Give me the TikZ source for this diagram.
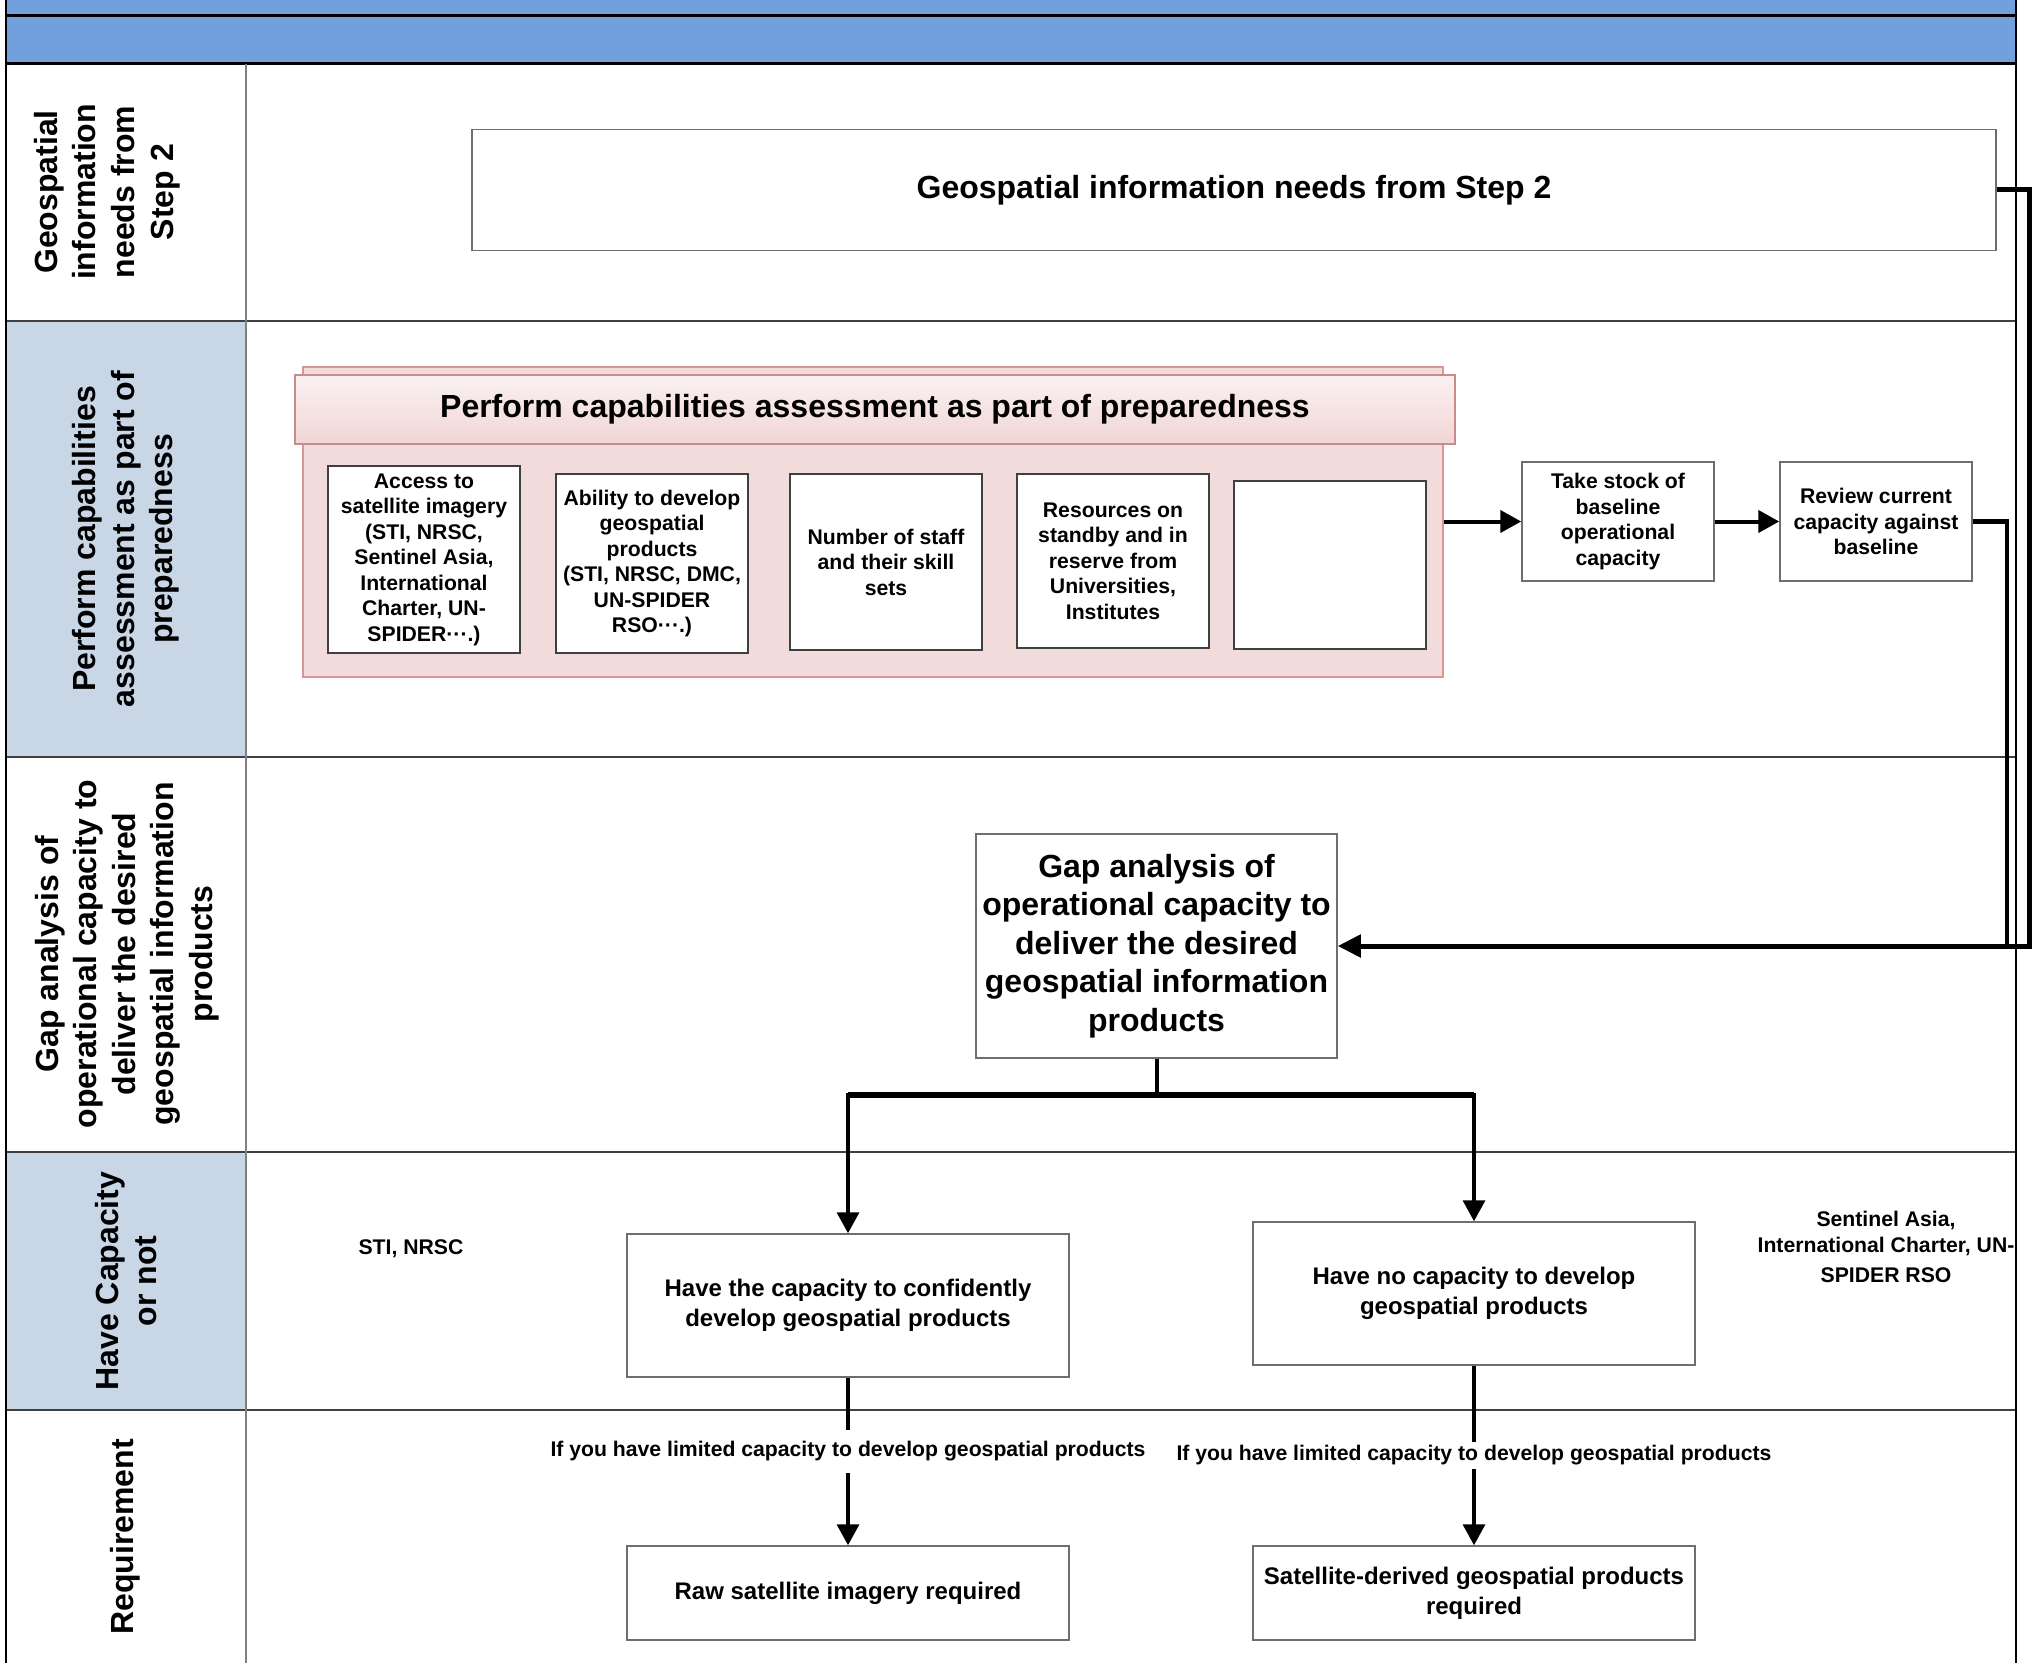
\documentclass[tikz,border=0pt]{standalone}
\usepackage{fontspec}
\setmainfont{Liberation Sans}
\usetikzlibrary{arrows.meta}
\definecolor{hdrblue}{RGB}{113,160,220}
\definecolor{lanefill}{RGB}{201,214,230}
\definecolor{pinkfill}{RGB}{242,220,219}
\definecolor{pinkdraw}{RGB}{217,150,148}
\definecolor{bannerdraw}{RGB}{200,140,138}
\definecolor{bannertop}{RGB}{251,241,241}
\definecolor{bannerbot}{RGB}{240,214,213}
\definecolor{rulegray}{RGB}{64,64,64}
\definecolor{colgray}{RGB}{128,128,128}
\definecolor{boxgray}{RGB}{110,110,110}
\newcommand{\bigfont}{\bfseries\fontsize{16}{19.3}\selectfont}
\newcommand{\midfont}{\bfseries\fontsize{12}{14.8}\selectfont}
\newcommand{\smallfont}{\bfseries\fontsize{10.6}{12.75}\selectfont}
\tikzset{
  lanetxt/.style={rotate=90, align=center, font=\bigfont, inner sep=0pt},
  flowbox/.style={draw=boxgray, line width=0.75pt, fill=white, align=center, inner sep=0pt},
  smallbox/.style={draw=rulegray, line width=0.9pt, fill=white, align=center, inner sep=0pt, font=\smallfont, minimum width=96pt},
  arrowline/.style={line width=1.75pt, -{Triangle[length=10.5pt,width=11pt]}},
  loopline/.style={line width=2.5pt},
  lanerule/.style={draw=rulegray, line width=1pt},
  lbl/.style={font=\smallfont, align=center, inner sep=0pt},
}
\begin{document}
\begin{tikzpicture}[x=0.5pt,y=-0.5pt]
\useasboundingbox (0,0) rectangle (2032,1663);
% header bands
\fill[hdrblue] (6,0) rectangle (2016,64);
\draw[line width=1.5pt] (6,16) -- (2016,16);
\draw[line width=1.5pt] (6,64) -- (2016,64);
% lane header fills
\fill[lanefill] (6,321) rectangle (246,757);
\fill[lanefill] (6,1152) rectangle (246,1410);
% lane rules
\draw[lanerule] (6,321) -- (2016,321);
\draw[lanerule] (6,757) -- (2016,757);
\draw[lanerule] (6,1152) -- (2016,1152);
\draw[lanerule] (6,1410) -- (2016,1410);
\draw[draw=colgray, line width=1pt] (246,64) -- (246,1663);
% lane titles
\node[lanetxt] (l1) at (107,192) {Geospatial\\information\\needs from\\Step 2};
\node[lanetxt] (l2) at (126,539) {Perform capabilities\\assessment as part of\\preparedness};
\node[lanetxt] (l3) at (127,954) {Gap analysis of\\operational capacity to\\deliver the desired\\geospatial information\\products};
\node[lanetxt] (l4) at (126,1281) {Have Capacity\\or not};
\node[lanetxt] (l5) at (125,1537) {Requirement};
% lane 1
\node[flowbox, font=\bigfont, minimum width=762pt, minimum height=60.5pt] (geo) at (1234,190) {Geospatial information needs from Step 2};
% lane 2
\node[draw=pinkdraw, fill=pinkfill, line width=0.9pt, minimum width=570pt, minimum height=155pt, inner sep=0pt] (pink) at (873,522) {};
\node[draw=bannerdraw, top color=bannertop, bottom color=bannerbot, line width=0.9pt, minimum width=580pt, minimum height=34.5pt, inner sep=0pt, font=\bigfont] (banner) at (875,409.5) {Perform capabilities assessment as part of preparedness};
\node[smallbox, minimum height=93.5pt] (b1) at (424,559.5) {Access to\\satellite imagery\\(STI, NRSC,\\Sentinel Asia,\\International\\Charter, UN-\\SPIDER···.)};
\node[smallbox, minimum height=89.5pt] (b2) at (652,563.5) {Ability to develop\\geospatial\\products\\(STI, NRSC, DMC,\\UN-SPIDER\\RSO···.)};
\node[smallbox, minimum height=88pt] (b3) at (886,562) {Number of staff\\and their skill\\sets};
\node[smallbox, minimum height=87pt] (b4) at (1113,561) {Resources on\\standby and in\\reserve from\\Universities,\\Institutes};
\node[smallbox, minimum height=84pt] (b5) at (1330,565) {};
\node[flowbox, font=\smallfont, minimum width=96pt, minimum height=59.5pt] (take) at (1618,521.5) {Take stock of\\baseline\\operational\\capacity};
\node[flowbox, font=\smallfont, minimum width=96pt, minimum height=59.5pt] (rev) at (1876,521.5) {Review current\\capacity against\\baseline};
% lane 3
\node[flowbox, font=\bigfont, minimum width=180.5pt, minimum height=112pt] (gap) at (1156.5,946) {Gap analysis of\\operational capacity to\\deliver the desired\\geospatial information\\products};
% lane 4
\node[flowbox, font=\midfont, minimum width=221pt, minimum height=71.5pt] (have) at (848,1305.5) {Have the capacity to confidently\\develop geospatial products};
\node[flowbox, font=\midfont, minimum width=221pt, minimum height=71.5pt] (haveno) at (1474,1293.5) {Have no capacity to develop\\geospatial products};
\node[lbl] (sti) at (411,1249) {STI, NRSC};
\node[lbl] (sent) at (1886,1247) {Sentinel Asia,\\International Charter, UN-\\[2.5pt]SPIDER RSO};
% lane 5
\node[flowbox, font=\midfont, minimum width=221pt, minimum height=47pt] (raw) at (848,1593) {Raw satellite imagery required};
\node[flowbox, font=\midfont, minimum width=221pt, minimum height=47pt] (sat) at (1474,1593) {Satellite-derived geospatial products\\required};
% connectors lane 2
\draw[arrowline, line width=2pt] (pink.east |- take.west) -- (take.west);
\draw[arrowline, line width=2pt] (take.east) -- (rev.west);
% loop to gap analysis
\coordinate (c1) at (2029,946);
\coordinate (c2) at (2007,946);
\draw[loopline] (geo.east) -| (c1) -- (c2);
\draw[loopline, line width=2.2pt] (rev.east) -| (c2);
\draw[loopline, -{Triangle[length=11.5pt,width=11pt]}] (c2) -- (gap.east);
% branch
\coordinate (jn) at (1156.5,1095);
\draw[line width=2pt] (gap.south) -- (jn);
\draw[arrowline] (jn) -| (have.north);
\draw[arrowline] (jn) -| (haveno.north);
\draw[line width=2.6pt] (have.north |- jn) -- (haveno.north |- jn);
% requirement arrows with labels
\draw[arrowline] (have.south) -- node[lbl, fill=white, inner ysep=6pt, inner xsep=2pt, pos=0.44] (lab1) {If you have limited capacity to develop geospatial products} (raw.north);
\draw[arrowline] (haveno.south) -- node[lbl, fill=white, inner ysep=2pt, inner xsep=2pt, pos=0.5] (lab2) {If you have limited capacity to develop geospatial products} (sat.north);
% outer borders
\draw[line width=1pt] (6,0) -- (6,1663);
\draw[line width=1pt] (2016,0) -- (2016,1663);
\end{tikzpicture}
\end{document}
